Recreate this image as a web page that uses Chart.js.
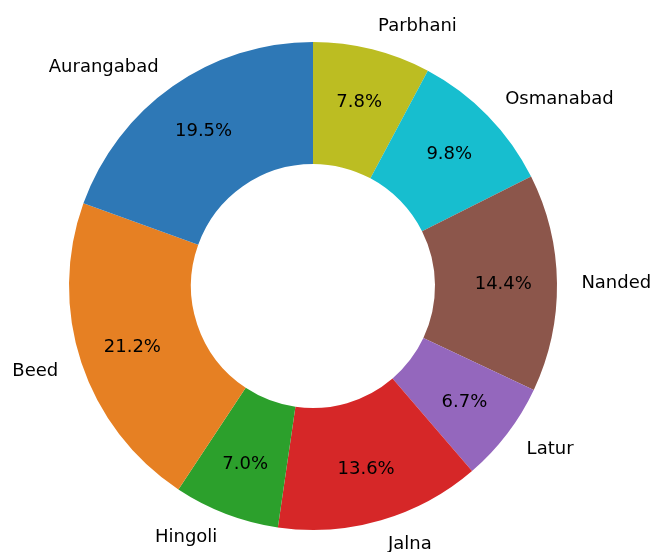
<!DOCTYPE html>
<html>
<head>
<meta charset="utf-8">
<script src="https://cdn.jsdelivr.net/npm/chart.js@4"></script>
<style>
html,body{margin:0;padding:0;background:#fff;}
#wrap{width:655px;height:552px;}
</style>
</head>
<body>
<div id="wrap"><canvas id="c" width="655" height="552"></canvas></div>
<script>
// Districts (matplotlib order, counter-clockwise from top)
const categories = ['Aurangabad','Beed','Hingoli','Jalna','Latur','Nanded','Osmanabad','Parbhani'];
const shares = [19.5, 21.2, 7.0, 13.6, 6.7, 14.4, 9.8, 7.8];
const colors = ['#2e78b6','#e68023','#2ca02c','#d62728','#9467bd','#8c564b','#17becf','#bcbd22'];

// Chart.js draws clockwise, so reverse to reproduce the counter-clockwise layout
const labelsCW = categories.slice().reverse();
const dataCW = shares.slice().reverse();
const colorsCW = colors.slice().reverse();

const labelPlugin = {
  id: 'pieLabels',
  afterDatasetsDraw(chart) {
    const ctx = chart.ctx;
    const meta = chart.getDatasetMeta(0);
    const total = dataCW.reduce((a, b) => a + b, 0);
    ctx.save();
    ctx.font = '18px "DejaVu Sans"';
    ctx.fillStyle = '#000';
    ctx.textBaseline = 'middle';
    meta.data.forEach((arc, i) => {
      const p = arc.getProps(['x','y','startAngle','endAngle','outerRadius'], true);
      const a = (p.startAngle + p.endAngle) / 2;
      const cx = Math.cos(a), cy = Math.sin(a);
      // percentage inside wedge
      const rp = p.outerRadius * 0.78;
      ctx.textAlign = 'center';
      ctx.fillText((dataCW[i] / total * 100).toFixed(1) + '%', p.x + rp * cx, p.y + rp * cy + 1);
      // category label outside
      const rl = p.outerRadius * 1.1;
      ctx.textAlign = cx >= 0 ? 'left' : 'right';
      ctx.fillText(labelsCW[i], p.x + rl * cx, p.y + rl * cy + 1);
    });
    ctx.restore();
  }
};

new Chart(document.getElementById('c'), {
  type: 'doughnut',
  data: {
    labels: labelsCW,
    datasets: [{
      data: dataCW,
      backgroundColor: colorsCW,
      borderWidth: 0,
      hoverOffset: 0
    }]
  },
  options: {
    responsive: false,
    animation: false,
    cutout: '50%',
    layout: { padding: { left: 69, right: 98, top: 42, bottom: 22 } },
    plugins: {
      legend: { display: false },
      tooltip: { enabled: false }
    }
  },
  plugins: [labelPlugin]
});
</script>
</body>
</html>
